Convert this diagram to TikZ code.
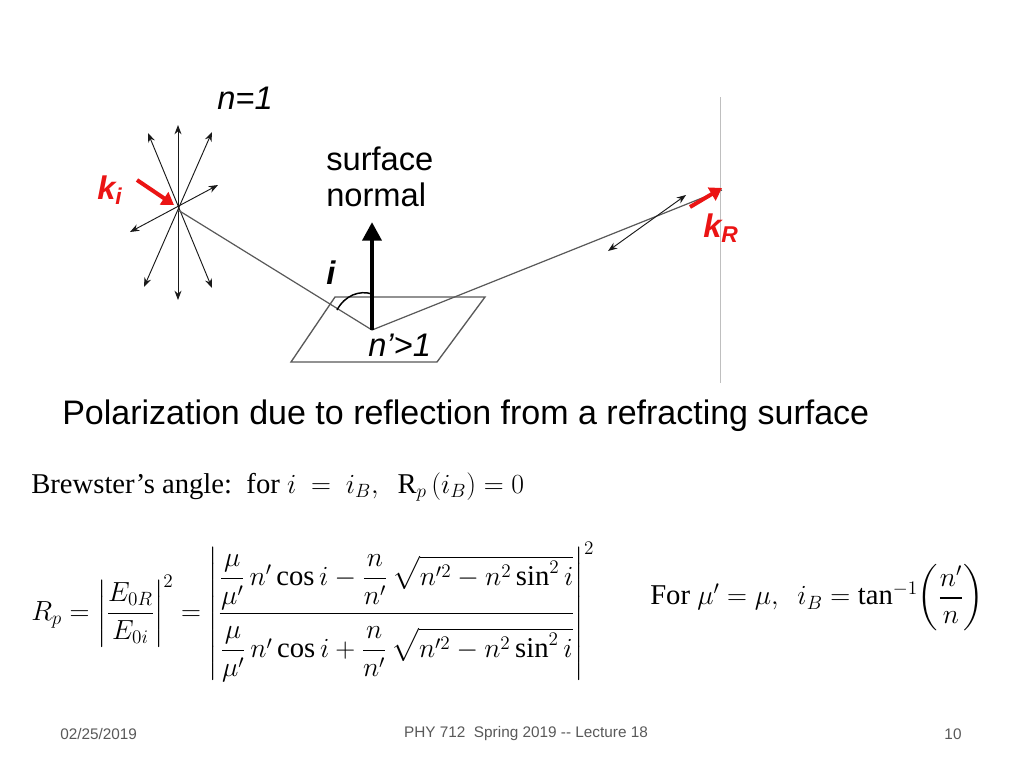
\documentclass[tikz,border=0pt]{standalone}
\usepackage{fontspec}
\setmainfont{Liberation Serif}
\setsansfont{Liberation Sans}
\usepackage{amsmath}
\usetikzlibrary{arrows.meta}
\definecolor{kred}{RGB}{235,20,20}
\begin{document}
\begin{tikzpicture}[x=0.75pt,y=-0.75pt,>=Stealth,
    efield/.style={gray!20!black,line width=0.7pt,{Stealth[length=7pt]}-{Stealth[length=7pt]}},
    ray/.style={gray!70!black,line width=0.9pt},
    lbl/.style={font=\sffamily\fontsize{24.5}{28}\selectfont,inner sep=0pt},
    eqn/.style={anchor=west,inner sep=0pt,font=\fontsize{21.5}{26}\selectfont},
    kvec/.style={kred,line width=3pt,-{Triangle[length=9pt,width=11pt]}}]
  \useasboundingbox[fill=white] (0,0) rectangle (1024,768);

  % Polarization star
  \coordinate (c) at (178,210);
  \draw[efield] (178,125) -- (178,300);
  \draw[efield] (148,133) -- (212,288);
  \draw[efield] (212,132) -- (144,287);
  \draw[efield] (130,232) -- (218,185);

  % Rays and surface
  \coordinate (o) at (372,330);
  \draw[ray] (c) -- (o) -- (722,190);
  \draw[gray!70!black,line width=1pt] (291,362) -- (335,297) -- (485,297) -- (437,362) -- cycle;
  \draw[efield] (608,251) -- (686,195);
  \draw[gray!50,thin] (720,97) -- (720,383);

  % Normal and angle
  \draw[line width=3.5pt,-{Triangle[length=14pt,width=14pt]}] (o) -- (372,222);
  \draw[line width=1.1pt] (337,310) .. controls (345,295) and (360,290) .. (372,294);

  % k vectors
  \draw[kvec] (137,180) -- (174,205);
  \draw[kvec] (690,207) -- (722,188);

  % Labels
  \node[lbl,anchor=west] (n1) at (217,98) {\itshape n=1};
  \node[lbl,anchor=west,align=left] (sn) at (326,177) {surface\\[-1pt]normal};
  \node[lbl,anchor=west] (ilbl) at (326,273) {\bfseries\itshape i};
  \node[lbl,anchor=west] (n2) at (368,345) {\itshape n’>1};
  \node[lbl,anchor=west,kred] (ki) at (97,190) {\bfseries\itshape k\textsubscript{i}};
  \node[lbl,anchor=west,kred] (kR) at (703,228) {\bfseries\itshape k\textsubscript{R}};

  \node[anchor=west,inner sep=0pt,font=\sffamily\fontsize{25.5}{29}\selectfont] (title) at (62,416)
    {Polarization due to reflection from a refracting surface};

  % Equations
  \node[eqn] (brew) at (31,487)
    {Brewster's angle:\ \ for $i\ =\ i_B,\ \ \mathrm{R}_p\,(i_B)=0$};
  \node[eqn] (rp) at (31,612)
    {$R_p=\left|\dfrac{E_{0R}}{E_{0i}}\right|^2=\left|\rule[-44pt]{0pt}{92pt}\dfrac{\dfrac{\mu}{\mu'}\,n'\cos i-\dfrac{n}{n'}\,\sqrt{n'^2-n^2\sin^2 i}}{\rule{0pt}{30pt}\dfrac{\mu}{\mu'}\,n'\cos i+\dfrac{n}{n'}\,\sqrt{n'^2-n^2\sin^2 i}}\right|^2$};
  \node[eqn] (tanb) at (650,598)
    {For $\mu'=\mu,\ \ i_B=\tan^{-1}\!\left(\dfrac{n'}{n}\right)$};

  % Footer
  \begin{scope}[every node/.style={inner sep=0pt,gray!70!black,font=\sffamily\fontsize{11.5}{13}\selectfont}]
    \node[anchor=west] (date) at (60,734) {02/25/2019};
    \node (course) at (526,734) {PHY 712\ \ Spring 2019 -{}- Lecture 18};
    \node (page) at (953,734) {10};
  \end{scope}
\end{tikzpicture}
\end{document}
